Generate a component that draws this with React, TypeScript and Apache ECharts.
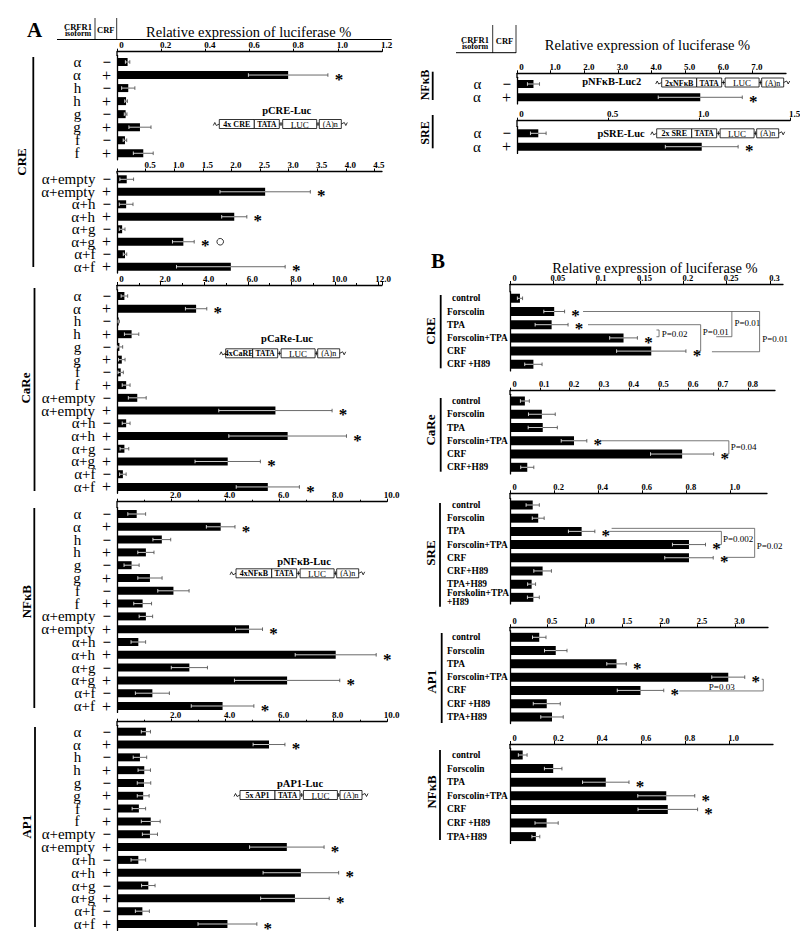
import { useEffect, useRef } from "react";
import * as echarts from "echarts";

const SERIF = "Liberation Serif";

// ---------- Panel A category labels ----------
const isoSingle = ["α", "α", "h", "h", "g", "g", "f", "f"];
const isoCombo = ["α+empty", "α+empty", "α+h", "α+h", "α+g", "α+g", "α+f", "α+f"];
const crfSign = ["−", "+", "−", "+", "−", "+", "−", "+"];
const isoAll = [...isoSingle, ...isoCombo];
const crfAll = [...crfSign, ...crfSign];
const isoAlpha = ["α", "α"];
const crfAlpha = ["−", "+"];

// ---------- Panel A values ----------
const creA1Mean = [0.048, 0.775, 0.051, 0.041, 0.039, 0.104, 0.036, 0.119];
const creA1Err = [0.01, 0.18, 0.03, 0.006, 0.006, 0.05, 0.008, 0.045];
const creA1Star = [0, 1, 0, 0, 0, 0, 0, 0];

const creA2Mean = [0.17, 2.59, 0.16, 2.05, 0.09, 1.16, 0.14, 1.99];
const creA2Err = [0.12, 0.79, 0.12, 0.22, 0.05, 0.19, 0.03, 0.95];
const creA2Star = [0, 1, 0, 1, 0, 1, 0, 1];
const creA2Circle = [0, 0, 0, 0, 0, 1, 0, 0];

const careMean = [0.34, 3.63, 0.08, 0.67, 0.11, 0.22, 0.17, 0.42, 0.93, 7.27, 0.42, 7.83, 0.34, 5.08, 0.27, 6.92];
const careErr = [0.15, 0.49, 0.03, 0.33, 0.15, 0.15, 0.12, 0.18, 0.41, 2.6, 0.18, 2.7, 0.2, 1.5, 0.15, 1.45];
const careStar = [0, 1, 0, 0, 0, 0, 0, 0, 0, 1, 0, 1, 0, 1, 0, 1];

const nfkbAMean = [0.73, 3.84, 1.66, 1.07, 0.54, 1.22, 2.09, 0.95, 1.07, 4.89, 0.79, 8.1, 2.68, 6.3, 1.31, 3.91];
const nfkbAErr = [0.33, 0.53, 0.33, 0.3, 0.28, 0.45, 0.58, 0.33, 0.25, 0.5, 0.27, 1.5, 0.67, 1.95, 0.63, 1.16];
const nfkbAStar = [0, 1, 0, 0, 0, 0, 0, 0, 0, 1, 0, 1, 0, 1, 0, 1];

const ap1AMean = [1.07, 5.63, 0.85, 1.01, 1.0, 0.97, 0.81, 1.25, 1.22, 6.29, 0.79, 6.81, 1.16, 6.59, 0.94, 4.09];
const ap1AErr = [0.17, 0.59, 0.25, 0.23, 0.25, 0.22, 0.25, 0.35, 0.28, 1.38, 0.27, 1.4, 0.25, 1.27, 0.26, 1.09];
const ap1AStar = [0, 1, 0, 0, 0, 0, 0, 0, 0, 1, 0, 1, 0, 1, 0, 1];

const nfkbTopMean = [0.49, 5.45];
const nfkbTopErr = [0.18, 1.25];
const nfkbTopStar = [0, 1];
const sreTopMean = [0.117, 1.015];
const sreTopErr = [0.043, 0.2];
const sreTopStar = [0, 1];

// ---------- Panel B ----------
const bCreCats = ["control", "Forscolin", "TPA", "Forscolin+TPA", "CRF", "CRF +H89"];
const bCreMean = [0.0115, 0.051, 0.048, 0.131, 0.163, 0.027];
const bCreErr = [0.003, 0.012, 0.019, 0.016, 0.04, 0.01];
const bCreStar = [0, 1, 1, 1, 1, 0];

const bCareCats = ["control", "Forscolin", "TPA", "Forscolin+TPA", "CRF", "CRF+H89"];
const bCareMean = [0.05, 0.107, 0.11, 0.215, 0.578, 0.058];
const bCareErr = [0.015, 0.045, 0.049, 0.043, 0.106, 0.022];
const bCareStar = [0, 0, 0, 1, 1, 0];

const bSreCats = ["control", "Forscolin", "TPA", "Forscolin+TPA", "CRF", "CRF+H89", "TPA+H89", "Forskolin+TPA\n+H89"];
const bSreMean = [0.103, 0.128, 0.325, 0.812, 0.812, 0.148, 0.098, 0.106];
const bSreErr = [0.03, 0.027, 0.06, 0.075, 0.11, 0.04, 0.018, 0.027];
const bSreStar = [0, 0, 1, 1, 1, 0, 0, 0];

const bAp1Cats = ["control", "Forscolin", "TPA", "Forscolin+TPA", "CRF", "CRF +H89", "TPA+H89"];
const bAp1Mean = [0.39, 0.61, 1.42, 2.91, 1.74, 0.49, 0.56];
const bAp1Err = [0.09, 0.15, 0.13, 0.22, 0.31, 0.18, 0.15];
const bAp1Star = [0, 0, 1, 1, 1, 0, 0];

const bNfkbCats = ["control", "Forscolin", "TPA", "Forscolin+TPA", "CRF", "CRF +H89", "TPA+H89"];
const bNfkbMean = [0.058, 0.197, 0.437, 0.713, 0.72, 0.167, 0.118];
const bNfkbErr = [0.02, 0.04, 0.106, 0.13, 0.136, 0.053, 0.018];
const bNfkbStar = [0, 0, 1, 1, 1, 0, 0];

// significance brackets: points [value, row], label position [value, row]
const bCreBrackets = [
  { pts: [[0.0843, 1], [0.288, 1], [0.288, 4.05], [0.233, 4.05]], text: "P=0.01", at: [0.291, 3.08] },
  { pts: [[0.256, 1], [0.256, 2.91], [0.238, 2.91]], text: "P=0.01", at: [0.259, 1.85] },
  { pts: [[0.09, 2], [0.22, 2], [0.22, 4], [0.216, 4]], text: "P=0.01", at: [0.2225, 2.55] },
  { pts: [[0.169, 2.4], [0.172, 2.4], [0.172, 2.91], [0.169, 2.91]], text: "P=0.02", at: [0.175, 2.72] },
];
const bCareBrackets = [
  { pts: [[0.305, 3], [0.735, 3], [0.735, 4], [0.72, 4]], text: "P=0.04", at: [0.741, 3.5] },
];
const bSreBrackets = [
  { pts: [[0.45, 2], [0.959, 2], [0.959, 3], [0.938, 3]], text: "P=0.002", at: [0.966, 2.6] },
  { pts: [[0.461, 1.77], [1.11, 1.77], [1.11, 3.97], [0.974, 3.97]], text: "P=0.02", at: [1.119, 3.11] },
];
const bAp1Brackets = [
  { pts: [[2.257, 4.04], [3.377, 4.04], [3.377, 3.16], [3.356, 3.16]], text: "P=0.03", at: [2.823, 3.74], center: true },
];

const f1 = (v: number) => (v === 0 ? "0" : v.toFixed(1));
const f1nz = (v: number) => (v === 0 ? "" : v.toFixed(1));
const f2 = (v: number) => (v === 0 ? "0" : String(Number(v.toFixed(2))));

const panels: any[] = [
  { kind: "A", iso: isoSingle, crf: crfSign, mean: creA1Mean, err: creA1Err, star: creA1Star, left: 117, width: 265, axisY: 51.7, firstY: 62, step: 13.04, max: 1.2, interval: 0.2, fmt: f1, showMax: true },
  { kind: "A", iso: isoCombo, crf: crfSign, mean: creA2Mean, err: creA2Err, star: creA2Star, circle: creA2Circle, left: 117, width: 265, axisY: 171.5, firstY: 179.3, step: 12.49, max: 4.633, interval: 0.5, fmt: f1nz, showMax: false },
  { kind: "A", iso: isoAll, crf: crfAll, mean: careMean, err: careErr, star: careStar, left: 117, width: 265, axisY: 285, firstY: 296, step: 12.73, max: 12.16, interval: 2, fmt: f1, showMax: false, minor: true },
  { kind: "A", iso: isoAll, crf: crfAll, mean: nfkbAMean, err: nfkbAErr, star: nfkbAStar, left: 117, width: 270, axisY: 501.7, firstY: 514, step: 12.8, max: 10, interval: 2, fmt: f1nz, showMax: true, minor: true },
  { kind: "A", iso: isoAll, crf: crfAll, mean: ap1AMean, err: ap1AErr, star: ap1AStar, left: 117, width: 270, axisY: 721.7, firstY: 731.7, step: 12.82, max: 10, interval: 2, fmt: f1nz, showMax: true, minor: true },
  { kind: "A", iso: isoAlpha, crf: crfAlpha, mean: nfkbTopMean, err: nfkbTopErr, star: nfkbTopStar, left: 517, width: 269, axisY: 73.3, firstY: 84, step: 13.3, max: 8, interval: 1, fmt: f1, showMax: false },
  { kind: "A", iso: isoAlpha, crf: crfAlpha, mean: sreTopMean, err: sreTopErr, star: sreTopStar, left: 517, width: 273, axisY: 120.7, firstY: 133.3, step: 13.4, max: 1.5, interval: 0.5, fmt: f1, showMax: true },
  { kind: "B", cats: bCreCats, mean: bCreMean, err: bCreErr, star: bCreStar, brackets: bCreBrackets, left: 510, width: 273, axisY: 284, firstY: 298.3, step: 13.2, max: 0.315, interval: 0.05, fmt: f2, showMax: false },
  { kind: "B", cats: bCareCats, mean: bCareMean, err: bCareErr, star: bCareStar, brackets: bCareBrackets, left: 510, width: 265, axisY: 390.7, firstY: 401, step: 13.26, max: 0.89, interval: 0.1, fmt: f2, showMax: false },
  { kind: "B", cats: bSreCats, mean: bSreMean, err: bSreErr, star: bSreStar, brackets: bSreBrackets, left: 510, width: 257, axisY: 493.3, firstY: 505, step: 13.19, max: 1.166, interval: 0.2, fmt: f1, showMax: false },
  { kind: "B", cats: bAp1Cats, mean: bAp1Mean, err: bAp1Err, star: bAp1Star, brackets: bAp1Brackets, left: 510, width: 258, axisY: 627.3, firstY: 637.3, step: 13.28, max: 3.44, interval: 0.5, fmt: f1, showMax: false },
  { kind: "B", cats: bNfkbCats, mean: bNfkbMean, err: bNfkbErr, star: bNfkbStar, left: 510, width: 263, axisY: 744, firstY: 755, step: 13.6, max: 1.2, interval: 0.2, fmt: f1, showMax: false },
];

const T = (x: number, y: number, text: string, size: number, extra: any = {}, rot = 0) => ({
  type: "text", x, y, rotation: rot, silent: true,
  style: { text, fontFamily: SERIF, fontSize: size, fill: "#000", align: "center", verticalAlign: "middle", ...extra },
});
const L = (x1: number, y1: number, x2: number, y2: number, w = 1, c = "#000") => ({
  type: "line", silent: true, shape: { x1, y1, x2, y2 }, style: { stroke: c, lineWidth: w },
});

function promoter(x0: number, yc: number, first: string, w1: number): any[] {
  const h = 9;
  const top = yc - h / 2;
  const els: any[] = [];
  const box = (x: number, w: number, t: string, bold: boolean, fs: number) => {
    els.push({ type: "rect", silent: true, shape: { x, y: top, width: w, height: h }, style: { fill: "#fff", stroke: "#000", lineWidth: 0.8 } });
    els.push(T(x + w / 2, yc + 0.5, t, fs, { fontWeight: bold ? "bold" : "normal" }));
  };
  els.push({ type: "polyline", silent: true, shape: { points: [[x0 - 6, yc + 1.5], [x0 - 4.5, yc - 1.5], [x0 - 3, yc + 1.5], [x0, yc]] }, style: { stroke: "#000", lineWidth: 0.8, fill: "none" } });
  box(x0, w1, first, true, 8);
  let x = x0 + w1;
  box(x, 25, "TATA", true, 7.5);
  x += 25;
  els.push(L(x, yc, x + 3.4, yc, 0.8));
  els.push(L(x + 1.7, yc - 2, x + 1.7, yc + 2, 0.8));
  x += 3.4;
  box(x, 34, "LUC", false, 9);
  x += 34;
  els.push(L(x, yc, x + 2.6, yc, 0.8));
  els.push(L(x + 1.3, yc - 2, x + 1.3, yc + 2, 0.8));
  x += 2.6;
  box(x, 22, "(A)n", false, 8);
  x += 22;
  els.push({ type: "polyline", silent: true, shape: { points: [[x, yc], [x + 3, yc - 1.5], [x + 4.5, yc + 1.5], [x + 6, yc - 1.5]] }, style: { stroke: "#000", lineWidth: 0.8, fill: "none" } });
  return els;
}

function buildOption() {
  const grid: any[] = [];
  const xAxis: any[] = [];
  const yAxis: any[] = [];
  const series: any[] = [];
  const patches: any[] = [];

  panels.forEach((p, i) => {
    const n = p.mean.length;
    const gTop = p.firstY - p.step / 2;
    grid.push({ left: p.left, top: gTop, width: p.width, height: p.step * n, outerBoundsMode: "none", containLabel: false });
    xAxis.push({
      type: "value", gridIndex: i, position: "top", min: 0, max: p.max, interval: p.interval, offset: gTop - p.axisY,
      axisLine: { show: true, onZero: false, lineStyle: { color: "#000", width: 1.3 } },
      axisTick: { show: true, length: 3, lineStyle: { color: "#000", width: 1 } },
      minorTick: { show: !!p.minor, splitNumber: 2, length: 2, lineStyle: { color: "#000", width: 1 } },
      splitLine: { show: false }, minorSplitLine: { show: false },
      axisLabel: {
        show: true, formatter: p.fmt, fontFamily: SERIF, fontWeight: "bold", fontSize: p.kind === "B" ? 8.5 : 9,
        color: "#000", margin: 2, padding: [0, 0, 0, 9], showMaxLabel: p.showMax, showMinLabel: true,
      },
    });
    const isA = p.kind === "A";
    yAxis.push({
      type: "category", gridIndex: i, inverse: true, data: p.mean.map((_: number, k: number) => String(k)),
      axisLine: { show: true, lineStyle: { color: "#000", width: 1.3 } },
      axisTick: { show: false }, splitLine: { show: false },
      axisLabel: isA
        ? {
            interval: 0, margin: 1,
            formatter: (v: string) => {
              const k = Number(v);
              const iso = p.iso[k];
              const st = iso.length === 1 ? "c" : "r";
              const sg = p.crf[k] === "+" ? "sp" : "sm";
              return `{${st}|${iso}}{${sg}|${p.crf[k]}}`;
            },
            rich: {
              c: { fontFamily: SERIF, fontSize: 15, width: 36, align: "center", color: "#000" },
              r: { fontFamily: SERIF, fontSize: 15, align: "right", color: "#000" },
              sp: { fontFamily: SERIF, fontSize: 16, align: "right", padding: [0, 5, 0, 7], color: "#000" },
              sm: { fontFamily: SERIF, fontSize: 15, fontWeight: "bold", align: "right", padding: [0, 5, 0, 7], color: "#000" },
            },
          }
        : {
            interval: 0, margin: 1,
            formatter: (v: string) => {
              const lab = p.cats[Number(v)];
              const st = lab === "control" ? "lc" : "l";
              return lab.split("\n").map((s: string) => `{${st}|${s}}`).join("\n");
            },
            rich: {
              l: { fontFamily: SERIF, fontSize: 9.4, fontWeight: "bold", width: 62, align: "left", color: "#000", lineHeight: 9 },
              lc: { fontFamily: SERIF, fontSize: 9.4, fontWeight: "bold", width: 57, align: "left", padding: [0, 0, 0, 5], color: "#000", lineHeight: 9 },
            },
          },
    });
    series.push({
      type: "bar", xAxisIndex: i, yAxisIndex: i, data: p.mean, barWidth: isA ? 8 : 9,
      itemStyle: { color: "#000" }, silent: true, z: 2,
    });
    series.push({
      type: "custom", xAxisIndex: i, yAxisIndex: i, silent: true, z: 3,
      data: p.mean.map((m: number, k: number) => [m, k]), encode: { x: 0, y: 1 },
      renderItem: (params: any, api: any) => {
        const k = params.dataIndex;
        const m = p.mean[k], e = p.err[k];
        const lo = api.coord([Math.max(0, m - e), k]);
        const mid = api.coord([m, k]);
        const hi = api.coord([m + e, k]);
        const y = mid[1];
        const c = 1.8;
        const ch: any[] = [
          { type: "line", shape: { x1: lo[0], y1: y, x2: mid[0], y2: y }, style: { stroke: "#fff", lineWidth: 0.8 } },
          { type: "line", shape: { x1: lo[0], y1: y - c, x2: lo[0], y2: y + c }, style: { stroke: "#fff", lineWidth: 0.8 } },
          { type: "line", shape: { x1: mid[0], y1: y, x2: hi[0], y2: y }, style: { stroke: "#444", lineWidth: 0.8 } },
          { type: "line", shape: { x1: hi[0], y1: y - c, x2: hi[0], y2: y + c }, style: { stroke: "#444", lineWidth: 0.8 } },
        ];
        if (p.star[k]) {
          ch.push({ type: "text", x: hi[0] + 11, y: y + 4.2, style: { text: "*", fontFamily: SERIF, fontWeight: "bold", fontSize: 17, fill: "#000", align: "center", verticalAlign: "middle" } });
        }
        if (p.circle && p.circle[k]) {
          ch.push({ type: "circle", shape: { cx: hi[0] + 26, cy: y, r: 3.3 }, style: { fill: "#fff", stroke: "#000", lineWidth: 0.8 } });
        }
        return { type: "group", children: ch };
      },
    });
    if (p.brackets) {
      series.push({
        type: "custom", xAxisIndex: i, yAxisIndex: i, silent: true, z: 4,
        data: p.brackets.map(() => [0, 0]), encode: { x: 0, y: 1 },
        renderItem: (params: any, api: any) => {
          const b = p.brackets[params.dataIndex];
          const band = api.size([0, 1])[1];
          const pix = (v: number, r: number) => {
            const f = Math.floor(r);
            const pt = api.coord([v, f]);
            return [pt[0], pt[1] + (r - f) * band];
          };
          const pts = b.pts.map((q: number[]) => pix(q[0], q[1]));
          const lp = pix(b.at[0], b.at[1]);
          return {
            type: "group",
            children: [
              { type: "polyline", shape: { points: pts }, style: { stroke: "#555", lineWidth: 0.8, fill: "none" } },
              { type: "text", x: lp[0], y: lp[1], style: { text: b.text, fontFamily: SERIF, fontSize: 9, fill: "#000", align: b.center ? "center" : "left", verticalAlign: "middle" } },
            ],
          };
        },
      });
    }
    patches.push(L(p.left, p.axisY, p.left, gTop + 0.5, 1.3));
  });

  const graphic: any[] = [
    ...patches,
    T(34.7, 30, "A", 21, { fontWeight: "bold" }),
    T(438, 261, "B", 21, { fontWeight: "bold" }),
    T(78, 26.5, "CRFR1", 8.5, { fontWeight: "bold" }),
    T(78, 33.8, "isoform", 8, { fontWeight: "bold" }),
    T(105.8, 29.5, "CRF", 8.5, { fontWeight: "bold" }),
    L(95, 18, 95, 39.5, 0.8),
    L(116.7, 18, 116.7, 39.5, 0.8),
    L(57, 39.5, 391.7, 39.5, 1),
    T(248.7, 32, "Relative expression of luciferase %", 14.5),
    T(475, 39.5, "CRFR1", 8.5, { fontWeight: "bold" }),
    T(475, 46.8, "isoform", 8, { fontWeight: "bold" }),
    T(504.5, 41, "CRF", 8.5, { fontWeight: "bold" }),
    L(492.7, 25, 492.7, 53, 0.8),
    L(516, 25, 516, 53, 0.8),
    L(456, 52.7, 516, 52.7, 1),
    T(647.5, 45, "Relative expression of luciferase %", 14.5),
    T(655, 268, "Relative expression of luciferase %", 14.5),
    T(21.7, 162, "CRE", 13, { fontWeight: "bold" }, Math.PI / 2),
    L(33.3, 57, 33.3, 267, 1.8),
    T(25, 388, "CaRe", 13, { fontWeight: "bold" }, Math.PI / 2),
    L(34.5, 288, 34.5, 491, 1.8),
    T(26.7, 601.7, "NFκB", 13, { fontWeight: "bold" }, Math.PI / 2),
    L(34.3, 508, 34.3, 708, 1.8),
    T(26.7, 826.7, "AP1", 13, { fontWeight: "bold" }, Math.PI / 2),
    L(35, 727, 35, 927, 1.8),
    T(425, 85, "NFκB", 12, { fontWeight: "bold" }, Math.PI / 2),
    L(432.7, 71.7, 432.7, 100, 1.8),
    T(425, 133, "SRE", 12, { fontWeight: "bold" }, Math.PI / 2),
    L(432.7, 115, 432.7, 148.3, 1.8),
    T(430, 331, "CRE", 13, { fontWeight: "bold" }, Math.PI / 2),
    L(440.7, 295, 440.7, 368.3, 1.8),
    T(430, 430, "CaRe", 13, { fontWeight: "bold" }, Math.PI / 2),
    L(440.7, 398, 440.7, 471.7, 1.8),
    T(430, 553, "SRE", 13, { fontWeight: "bold" }, Math.PI / 2),
    L(440, 503, 440, 606.7, 1.8),
    T(431.7, 681.7, "AP1", 13, { fontWeight: "bold" }, Math.PI / 2),
    L(441.7, 633, 441.7, 723, 1.8),
    T(431.7, 792, "NFκB", 13, { fontWeight: "bold" }, Math.PI / 2),
    L(440, 750, 440, 840, 1.8),
    T(286.7, 110, "pCRE-Luc", 10.5, { fontWeight: "bold" }),
    ...promoter(219.3, 124, "4x CRE", 35),
    T(287, 338.3, "pCaRe-Luc", 10.5, { fontWeight: "bold" }),
    ...promoter(225.7, 353.3, "4xCaRE", 27),
    T(304, 561.7, "pNFκB-Luc", 10.5, { fontWeight: "bold" }),
    ...promoter(236, 573.3, "4xNFκB", 35.7),
    T(300, 783.3, "pAP1-Luc", 10.5, { fontWeight: "bold" }),
    ...promoter(240, 795, "5x AP1", 35),
    T(611.7, 81.7, "pNFκB-Luc2", 10.5, { fontWeight: "bold" }),
    ...promoter(661.7, 82.5, "2xNFκB", 35),
    T(621, 133.3, "pSRE-Luc", 10.5, { fontWeight: "bold" }),
    ...promoter(656.7, 133.3, "2x SRE", 35),
  ];

  return { animation: false, backgroundColor: "#fff", grid, xAxis, yAxis, series, graphic };
}

export default function App() {
  const ref = useRef<HTMLDivElement>(null);
  useEffect(() => {
    document.body.style.margin = "0";
    if (!ref.current) return;
    const chart = echarts.init(ref.current, null, { renderer: "svg" });
    chart.setOption(buildOption() as any);
    return () => chart.dispose();
  }, []);
  return <div ref={ref} style={{ width: 800, height: 933 }} />;
}
